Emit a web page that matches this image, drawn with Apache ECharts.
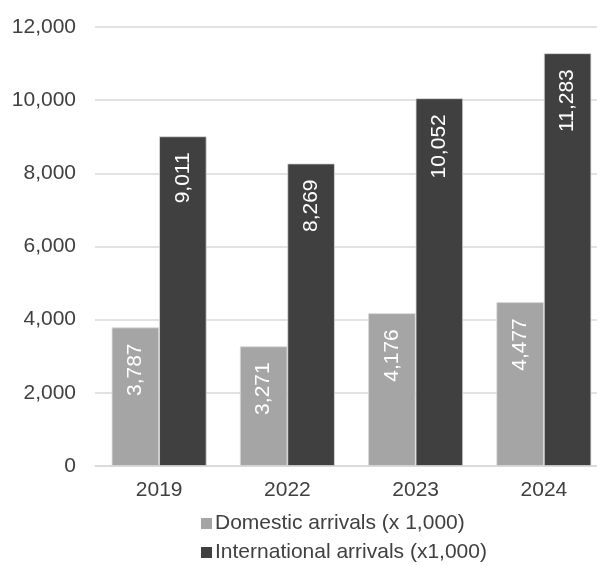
<!DOCTYPE html>
<html>
<head>
<meta charset="utf-8">
<script src="https://cdn.jsdelivr.net/npm/echarts@6/dist/echarts.min.js"></script>
<style>html,body{margin:0;padding:0;background:#fff;overflow:hidden;}#c{width:620px;height:566px;}</style>
</head>
<body>
<div id="c"></div>
<script>
const categories = ['2019', '2022', '2023', '2024'];
const domestic = [3787, 3271, 4176, 4477];
const international = [9011, 8269, 10052, 11283];
const seriesNames = ['Domestic arrivals (x 1,000)', 'International arrivals (x1,000)'];
const yTicks = [0, 2000, 4000, 6000, 8000, 10000, 12000];

const font = '"Liberation Sans", Arial, sans-serif';
const textColor = '#404040';
const fmt = v => v.toLocaleString('en-US');
const chart = echarts.init(document.getElementById('c'), null, {renderer: 'canvas'});

function labelCfg() {
  return {
    show: true,
    position: 'insideTop',
    rotate: 90,
    align: 'right',
    verticalAlign: 'middle',
    distance: 16,
    color: '#ffffff',
    textBorderWidth: 0,
    fontFamily: font,
    fontSize: 21,
    formatter: p => fmt(p.value)
  };
}

chart.setOption({
  animation: false,
  textStyle: {fontFamily: font},
  grid: {left: 95, top: 27, width: 513, height: 439, containLabel: false},
  legend: {
    orient: 'vertical',
    left: 201,
    top: 513,
    padding: 0,
    itemWidth: 11,
    itemHeight: 11,
    itemGap: 8,
    icon: 'rect',
    itemStyle: {borderWidth: 0},
    textStyle: {color: textColor, fontSize: 21, fontFamily: font, padding: [0, 0, 0, -2]},
    data: seriesNames
  },
  xAxis: {
    type: 'category',
    data: categories,
    axisLine: {show: true, lineStyle: {color: '#d9d9d9', width: 1.5}},
    axisTick: {show: false},
    axisLabel: {color: textColor, fontSize: 21, fontFamily: font, margin: 14}
  },
  yAxis: {
    type: 'value',
    min: yTicks[0],
    max: yTicks[yTicks.length - 1],
    interval: yTicks[1] - yTicks[0],
    axisLine: {show: false},
    axisTick: {show: false},
    splitLine: {lineStyle: {color: '#d9d9d9', width: 1.5}},
    axisLabel: {color: textColor, fontSize: 21, fontFamily: font, margin: 19, formatter: v => fmt(v)}
  },
  series: [
    {
      name: seriesNames[0],
      type: 'bar',
      data: domestic,
      barGap: '0%',
      barCategoryGap: '26%',
      itemStyle: {color: '#a5a5a5', borderColor: '#d9d9d9', borderWidth: 0.8},
      label: labelCfg()
    },
    {
      name: seriesNames[1],
      type: 'bar',
      data: international,
      barGap: '0%',
      barCategoryGap: '26%',
      itemStyle: {color: '#404040', borderColor: '#d9d9d9', borderWidth: 0.8},
      label: labelCfg()
    }
  ]
});
</script>
</body>
</html>
